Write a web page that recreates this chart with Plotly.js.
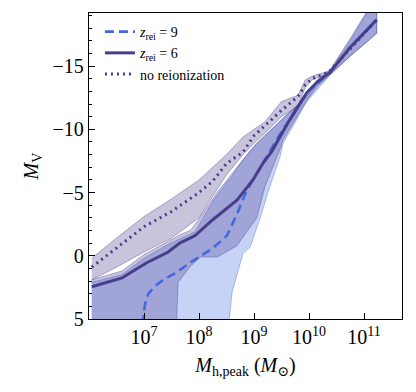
<!DOCTYPE html>
<html>
<head>
<meta charset="utf-8">
<script src="https://cdn.plot.ly/plotly-3.0.1.min.js"></script>
<style>
  html, body { margin: 0; padding: 0; background: #fff; }
  #chart { width: 416px; height: 392px; }
</style>
</head>
<body>
<div id="chart"></div>
<script>
// log10 of peak halo mass for each series, with M_V values

// no reionization: median + 68% band
const noReionLogM  = [6.05, 6.5, 7.0, 7.5, 8.0, 8.25, 8.5, 8.8, 9.0, 9.2, 9.5, 9.8, 9.93, 10.05, 10.35, 10.8, 11.23];
const noReionMed   = [0.9, -0.6, -2.3, -3.5, -5.0, -5.9, -7.3, -8.2, -9.5, -10.3, -11.5, -12.6, -13.5, -14.0, -14.5, -16.6, -18.7];
const noReionBandLogM = [6.05, 6.5, 7.0, 7.5, 8.0, 8.5, 8.8, 9.0, 9.2, 9.5, 9.8, 9.93, 10.05, 10.35];
const noReionUpper = [0.2, -1.4, -3.1, -4.5, -6.0, -8.0, -9.4, -10.0, -10.6, -12.2, -12.7, -13.9, -14.2, -14.6];
const noReionLower = [1.9, 0.9, -0.3, -1.4, -3.0, -6.4, -8.0, -8.9, -9.7, -11.0, -11.8, -13.3, -13.9, -14.4];

// z_rei = 6
const z6LogM = [6.05, 6.6, 6.84, 7.05, 7.44, 7.65, 7.93, 8.25, 8.69, 8.98, 9.16, 9.33, 9.47, 9.65, 9.96, 10.15, 10.38, 10.75, 11.23];
const z6Med  = [2.45, 1.75, 1.1, 0.55, -0.3, -1.0, -1.6, -2.85, -4.4, -6.0, -7.3, -8.3, -9.4, -10.75, -12.9, -13.75, -14.5, -16.5, -18.66];
const z6BandLogM = [6.05, 6.6, 7.0, 7.44, 7.59, 7.62, 7.84, 8.02, 8.33, 8.69, 9.05, 9.2, 9.47, 9.53, 9.96, 10.15, 10.38, 10.75, 11.05, 11.23];
const z6Upper = [1.9, 1.2, -0.1, -1.1, -1.5, -1.6, -2.0, -3.0, -5.0, -7.0, -8.9, -9.5, -10.6, -10.9, -12.6, -13.9, -14.7, -17.2, -19.3, -19.6];
const z6Lower = [5.5, 5.5, 5.5, 5.5, 5.5, 2.1, 0.85, 0.1, 0.1, -0.8, -3.0, -5.5, -8.4, -9.2, -12.3, -13.4, -14.3, -15.8, -16.9, -17.6];

// z_rei = 9
const z9LogM = [6.97, 7.02, 7.08, 7.2, 7.35, 7.56, 7.84, 8.25, 8.51, 8.69, 8.87, 9.1, 9.29, 9.47, 9.65, 9.96, 10.38, 10.75, 11.23];
const z9Med  = [5.4, 3.8, 3.0, 2.4, 1.9, 1.4, 0.55, -0.6, -1.6, -3.3, -5.2, -6.9, -8.2, -9.6, -10.8, -12.9, -14.5, -16.5, -18.6];
const z9BandLogM = [6.05, 6.6, 7.0, 7.44, 7.93, 8.25, 8.54, 8.57, 8.6, 8.8, 8.93, 9.1, 9.29, 9.47, 9.53, 9.96, 10.38, 10.75, 11.05, 11.23];
const z9Upper = [2.1, 1.5, 0.2, -0.9, -1.9, -4.3, -6.0, -6.1, -6.3, -7.6, -8.3, -9.1, -9.9, -10.6, -10.9, -12.6, -14.6, -17.0, -19.2, -19.5];
const z9Lower = [5.5, 5.5, 5.5, 5.5, 5.5, 5.5, 5.5, 4.5, 2.9, -0.2, -0.7, -2.85, -5.5, -7.8, -8.9, -12.2, -14.3, -15.8, -16.9, -17.6];

const xTicks = [7, 8, 9, 10, 11];

const BLUE = '#4169e1';
const SLATE = '#483d8b';
const FONT = '"Liberation Serif", "DejaVu Serif", serif';

const mass = arr => arr.map(v => Math.pow(10, v));

function band(logM, upper, lower, rgb, alpha) {
  return {
    type: 'scatter',
    mode: 'lines',
    x: mass(logM.concat(logM.slice().reverse())),
    y: upper.concat(lower.slice().reverse()),
    fill: 'toself',
    fillcolor: `rgba(${rgb},${alpha})`,
    line: { color: `rgba(${rgb},${alpha + 0.1})`, width: 1 },
    showlegend: false,
    hoverinfo: 'skip',
  };
}

const traces = [
  band(z9BandLogM, z9Upper, z9Lower, '65,105,225', 0.3),
  band(z6BandLogM, z6Upper, z6Lower, '72,61,139', 0.3),
  band(noReionBandLogM, noReionUpper, noReionLower, '72,61,139', 0.3),
  {
    type: 'scatter', mode: 'lines',
    name: '<i>z</i><sub>rei</sub> = 9',
    x: mass(z9LogM), y: z9Med,
    line: { color: BLUE, width: 2.6, dash: '9px,5px' },
  },
  {
    type: 'scatter', mode: 'lines',
    name: '<i>z</i><sub>rei</sub> = 6',
    x: mass(z6LogM), y: z6Med,
    line: { color: SLATE, width: 3 },
  },
  {
    type: 'scatter', mode: 'lines',
    name: 'no reionization',
    x: mass(noReionLogM), y: noReionMed,
    line: { color: SLATE, width: 3, dash: '2px,4px' },
  },
];

const axisBase = {
  showgrid: false,
  zeroline: false,
  showline: true,
  linecolor: '#000',
  linewidth: 1.2,
  mirror: true,
  ticks: 'inside',
  ticklen: 6,
  tickwidth: 1,
  tickcolor: '#000',
  tickfont: { family: FONT, size: 20, color: '#000' },
};

const layout = {
  width: 416,
  height: 392,
  paper_bgcolor: '#fff',
  plot_bgcolor: '#fff',
  margin: { l: 89, r: 14, t: 13, b: 73 },
  font: { family: FONT, color: '#000' },
  xaxis: {
    ...axisBase,
    type: 'log',
    range: [6.0, 11.69],
    tickvals: mass(xTicks),
    ticktext: xTicks.map(p => `10<sup>${p}</sup>`),
    title: { text: '<i>M</i><sub>h,peak</sub> (<i>M</i><sub>⊙</sub>)', font: { family: FONT, size: 20 }, standoff: 10 },
  },
  yaxis: {
    ...axisBase,
    range: [5, -19.2],
    dtick: 5,
    tick0: 0,
    minor: { dtick: 1, ticks: 'inside', ticklen: 3, tickcolor: '#000', showgrid: false },
    title: { text: '<i>M</i><sub>V</sub>', font: { family: FONT, size: 20 }, standoff: 8 },
  },
  legend: {
    x: 0.035, y: 0.99, xanchor: 'left', yanchor: 'top',
    bgcolor: 'rgba(0,0,0,0)',
    font: { family: FONT, size: 14 },
    tracegroupgap: 0,
  },
  showlegend: true,
};

Plotly.newPlot('chart', traces, layout, { displayModeBar: false, staticPlot: true });
</script>
</body>
</html>
